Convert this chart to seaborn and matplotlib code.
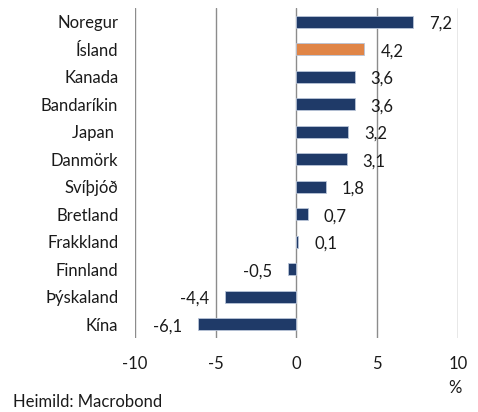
import matplotlib
matplotlib.use("Agg")
import matplotlib.pyplot as plt
import seaborn as sns
import pandas as pd

countries = ["Noregur", "Ísland", "Kanada", "Bandaríkin", "Japan ", "Danmörk",
             "Svíþjóð", "Bretland", "Frakkland", "Finnland", "Þýskaland", "Kína"]
values = [7.2, 4.2, 3.6, 3.6, 3.2, 3.1, 1.8, 0.7, 0.1, -0.5, -4.4, -6.1]
labels = ["7,2", "4,2", "3,6", "3,6", "3,2", "3,1", "1,8", "0,7", "0,1", "-0,5", "-4,4", "-6,1"]
highlight = "Ísland"

navy = "#1F3A68"
orange = "#E08547"
txt = "#1a1a1a"
fs = 12

sns.set_theme(style="white")
plt.rcParams["font.family"] = ["Lato", "DejaVu Sans"]

df = pd.DataFrame({"country": countries, "value": values})
palette = {c: (orange if c == highlight else navy) for c in countries}

fig = plt.figure(figsize=(4.78, 4.12), dpi=100)
ax = fig.add_axes([0.2824, 0.1796, 0.6757, 0.801])

sns.barplot(data=df, x="value", y="country", hue="country", palette=palette,
            order=countries, width=0.44, legend=False, ax=ax,
            edgecolor="#B8C4D8", linewidth=0.6, saturation=1)

ax.set_xlim(-10, 10)
ax.set_ylim(11.5, -0.5)
ax.set_xticks([-10, -5, 0, 5, 10])
ax.set_xticklabels(["-10", "-5", "0", "5", "10"])
ax.grid(True, axis="x", color="#8C8C8C", linewidth=1)
ax.grid(False, axis="y")
ax.set_axisbelow(True)
for s in ax.spines.values():
    s.set_visible(False)
ax.set_xlabel("")
ax.set_ylabel("")
ax.tick_params(axis="y", length=0, pad=12, labelsize=fs, labelcolor=txt)
ax.tick_params(axis="x", length=0, pad=13, labelsize=fs, labelcolor=txt)

# etiketter vid enda stapla
for i, (v, lab) in enumerate(zip(values, labels)):
    off = 16 if v >= 0 else -16
    ax.annotate(lab, xy=(v, i), xytext=(off, -2), textcoords="offset pixels",
                ha="left" if v >= 0 else "right", va="center", fontsize=fs, color=txt)

fig.text(455 / 478, 1 - 388 / 412, "%", ha="center", va="center", fontsize=fs, color=txt)
fig.text(13 / 478, 1 - 402 / 412, "Heimild: Macrobond", ha="left", va="center", fontsize=fs, color=txt)

fig.savefig("out.png", dpi=100)
